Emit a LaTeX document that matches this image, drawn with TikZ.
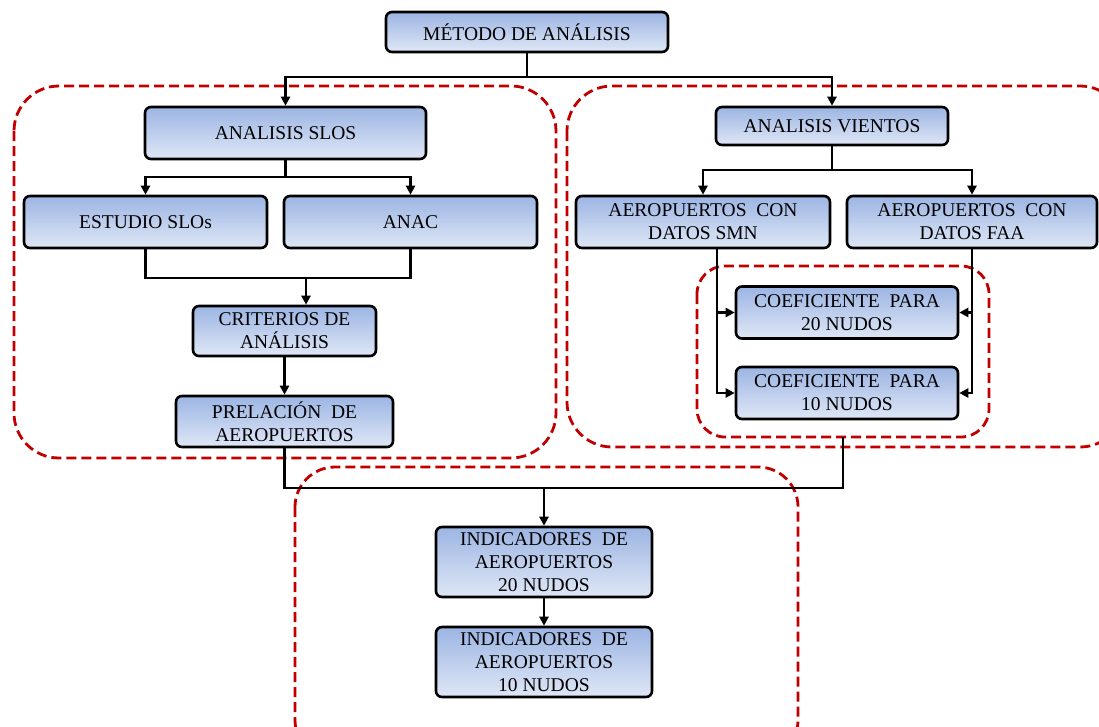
\documentclass[tikz,border=0pt]{standalone}
\usepackage{fontspec}
\setmainfont{Liberation Serif}
\usepackage{xcolor}
\definecolor{cTop}  {HTML}{9CB5E3}
\definecolor{cBot}  {HTML}{DFE7F6}
\definecolor{cFrame}{HTML}{C00000}
\usepackage{tikz}
\usetikzlibrary{arrows.meta, positioning, calc}
\tikzset{
  blk/.style  = {rectangle, draw=black, line width=2.6pt, rounded corners=6pt,
                 top color=cTop, bottom color=cBot, inner sep=0pt,
                 align=center, font=\fontsize{19.5}{23}\selectfont},
  con/.style  = {line width=2.6pt, black},
  arr/.style  = {con, -{Triangle[length=9pt,width=9pt]}},
  grp/.style  = {draw=cFrame, line width=2.8pt, dash pattern=on 10pt off 5pt},
}

\begin{document}
\begin{tikzpicture}[x=1pt, y=-1pt]

  \useasboundingbox (0,0) rectangle (1099,726);
  \clip (0,0) rectangle (1099,726);

  % groups
  \draw[grp, rounded corners=45pt] (14,86)  rectangle (556,458);
  \draw[grp, rounded corners=45pt] (567,86) rectangle (1125,447);
  \draw[grp, rounded corners=28pt] (697,266) rectangle (989,437);
  \draw[grp, rounded corners=40pt] (295,467) rectangle (798,760);

  % boxes
  \node[blk, minimum width=282pt, minimum height=40pt] (metodo)  at (527,32)    {MÉTODO DE ANÁLISIS};
  \node[blk, minimum width=281pt, minimum height=52pt] (slos)    at (285.5,133) {ANALISIS SLOS};
  \node[blk, minimum width=232pt, minimum height=38pt] (vientos) at (832,126)   {ANALISIS VIENTOS};
  \node[blk, minimum width=243pt, minimum height=52pt] (estudio) at (145.5,222) {ESTUDIO SLOs};
  \node[blk, minimum width=253pt, minimum height=52pt] (anac)    at (410.5,222) {ANAC};
  \node[blk, minimum width=254pt, minimum height=52pt] (smn)     at (703,222)   {AEROPUERTOS\ \ CON\\DATOS SMN};
  \node[blk, minimum width=250pt, minimum height=52pt] (faa)     at (972,222)   {AEROPUERTOS\ \ CON\\DATOS FAA};
  \node[blk, minimum width=183pt, minimum height=50pt] (crit)    at (284.5,331) {CRITERIOS DE\\ANÁLISIS};
  \node[blk, minimum width=217pt, minimum height=51pt] (prel)    at (284.5,421.5) {PRELACIÓN\ \ DE\\AEROPUERTOS};
  \node[blk, minimum width=222pt, minimum height=52pt] (coefA)   at (847,312.5) {COEFICIENTE\ \ PARA\\20 NUDOS};
  \node[blk, minimum width=222pt, minimum height=52pt] (coefB)   at (847,393)   {COEFICIENTE\ \ PARA\\10 NUDOS};
  \node[blk, minimum width=216pt, minimum height=70pt] (indA)    at (544,562)   {INDICADORES\ \ DE\\AEROPUERTOS\\20 NUDOS};
  \node[blk, minimum width=216pt, minimum height=70pt] (indB)    at (544,662)   {INDICADORES\ \ DE\\AEROPUERTOS\\10 NUDOS};

  % junctions
  \coordinate (j1) at (527,77);
  \coordinate (j2) at (285.5,177);
  \coordinate (j3) at (832,170);
  \coordinate (j4) at (306,278);
  \coordinate (j5) at (544,488);
  \coordinate (cb) at (843,437);
  \coordinate (sl) at (717,248);

  % connectors
  \draw[arr] (metodo.south) -- (j1) -| (slos.north);
  \draw[arr] (j1) -| (vientos.north);
  \draw[arr] (slos.south) -- (j2) -| (estudio.north);
  \draw[arr] (j2) -| (anac.north);
  \draw[con] (estudio.south) |- (j4) -| (anac.south);
  \draw[arr] (j4) -- (j4 |- crit.north);
  \draw[arr] (crit.south) -- (prel.north);
  \draw[arr] (vientos.south) -- (j3) -| (smn.north);
  \draw[arr] (j3) -| (faa.north);
  \draw[arr] (sl) |- (coefA.west);
  \draw[arr] (sl) |- (coefB.west);
  \draw[arr] (faa.south) |- (coefA.east);
  \draw[arr] (faa.south) |- (coefB.east);
  \draw[con] (prel.south) |- (j5) -| (cb);
  \draw[arr] (j5) -- (indA.north);
  \draw[arr] (indA.south) -- (indB.north);

\end{tikzpicture}
\end{document}
